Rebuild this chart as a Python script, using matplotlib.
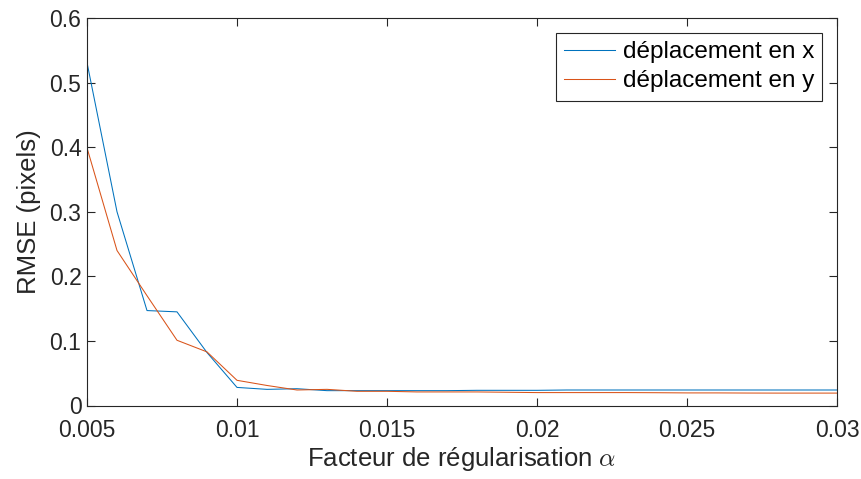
import matplotlib
matplotlib.use("Agg")
import matplotlib.pyplot as plt

plt.rcParams['font.family'] = ['Liberation Sans', 'DejaVu Sans']
plt.rcParams['mathtext.fontset'] = 'cm'

# facteur de régularisation alpha
alpha = [0.005, 0.006, 0.007, 0.008, 0.009, 0.010, 0.011, 0.012, 0.013,
         0.014, 0.015, 0.016, 0.017, 0.018, 0.019, 0.020, 0.021, 0.022,
         0.023, 0.024, 0.025, 0.026, 0.027, 0.028, 0.029, 0.030]

# RMSE (pixels)
rmse_x = [0.531, 0.300, 0.147, 0.145, 0.082, 0.028, 0.025, 0.026, 0.023,
          0.023, 0.023, 0.023, 0.023, 0.0235, 0.0235, 0.0235, 0.024, 0.024,
          0.024, 0.024, 0.024, 0.024, 0.024, 0.024, 0.024, 0.024]
rmse_y = [0.399, 0.240, 0.170, 0.101, 0.083, 0.039, 0.031, 0.024, 0.025,
          0.022, 0.022, 0.021, 0.021, 0.021, 0.0205, 0.020, 0.020, 0.020,
          0.020, 0.0198, 0.0195, 0.0195, 0.0193, 0.0192, 0.0192, 0.0192]

xticks = [0.005, 0.01, 0.015, 0.02, 0.025, 0.03]
xticklabels = ["0.005", "0.01", "0.015", "0.02", "0.025", "0.03"]
yticks = [0, 0.1, 0.2, 0.3, 0.4, 0.5, 0.6]
yticklabels = ["0", "0.1", "0.2", "0.3", "0.4", "0.5", "0.6"]

axcol = '#262626'
fs = 16.5
fs_lab = 18.5

fig = plt.figure(figsize=(8.62, 4.79), dpi=100)
ax = fig.add_axes([87 / 862, (479 - 405.5) / 479, 750 / 862, 387.5 / 479])

ax.plot(alpha, rmse_x, color='#0072BD', lw=0.75, label='déplacement en x')
ax.plot(alpha, rmse_y, color='#D95319', lw=0.75, label='déplacement en y')

ax.set_xlim(0.005, 0.03)
ax.set_ylim(0, 0.6)
ax.set_xticks(xticks)
ax.set_xticklabels(xticklabels)
ax.set_yticks(yticks)
ax.set_yticklabels(yticklabels)

ax.tick_params(direction='in', top=True, right=True, length=5.5, width=0.8,
               color=axcol, labelcolor=axcol, labelsize=fs)
ax.tick_params(axis='x', pad=10)
ax.tick_params(axis='y', pad=4)
for s in ax.spines.values():
    s.set_color(axcol)
    s.set_linewidth(0.8)

ax.set_xlabel(r"Facteur de régularisation $\alpha$", fontsize=fs_lab, color=axcol, labelpad=2)
ax.set_ylabel("RMSE (pixels)", fontsize=fs_lab, color=axcol, labelpad=6)

leg = ax.legend(loc='upper right', fontsize=17.5, fancybox=False, framealpha=1,
                edgecolor=axcol, handlelength=2.1, handletextpad=0.3,
                labelspacing=0.3, borderpad=0.35, borderaxespad=0.6)
leg.get_frame().set_linewidth(0.8)
for t in leg.get_texts():
    t.set_color('black')

fig.savefig("out.png", dpi=100)
